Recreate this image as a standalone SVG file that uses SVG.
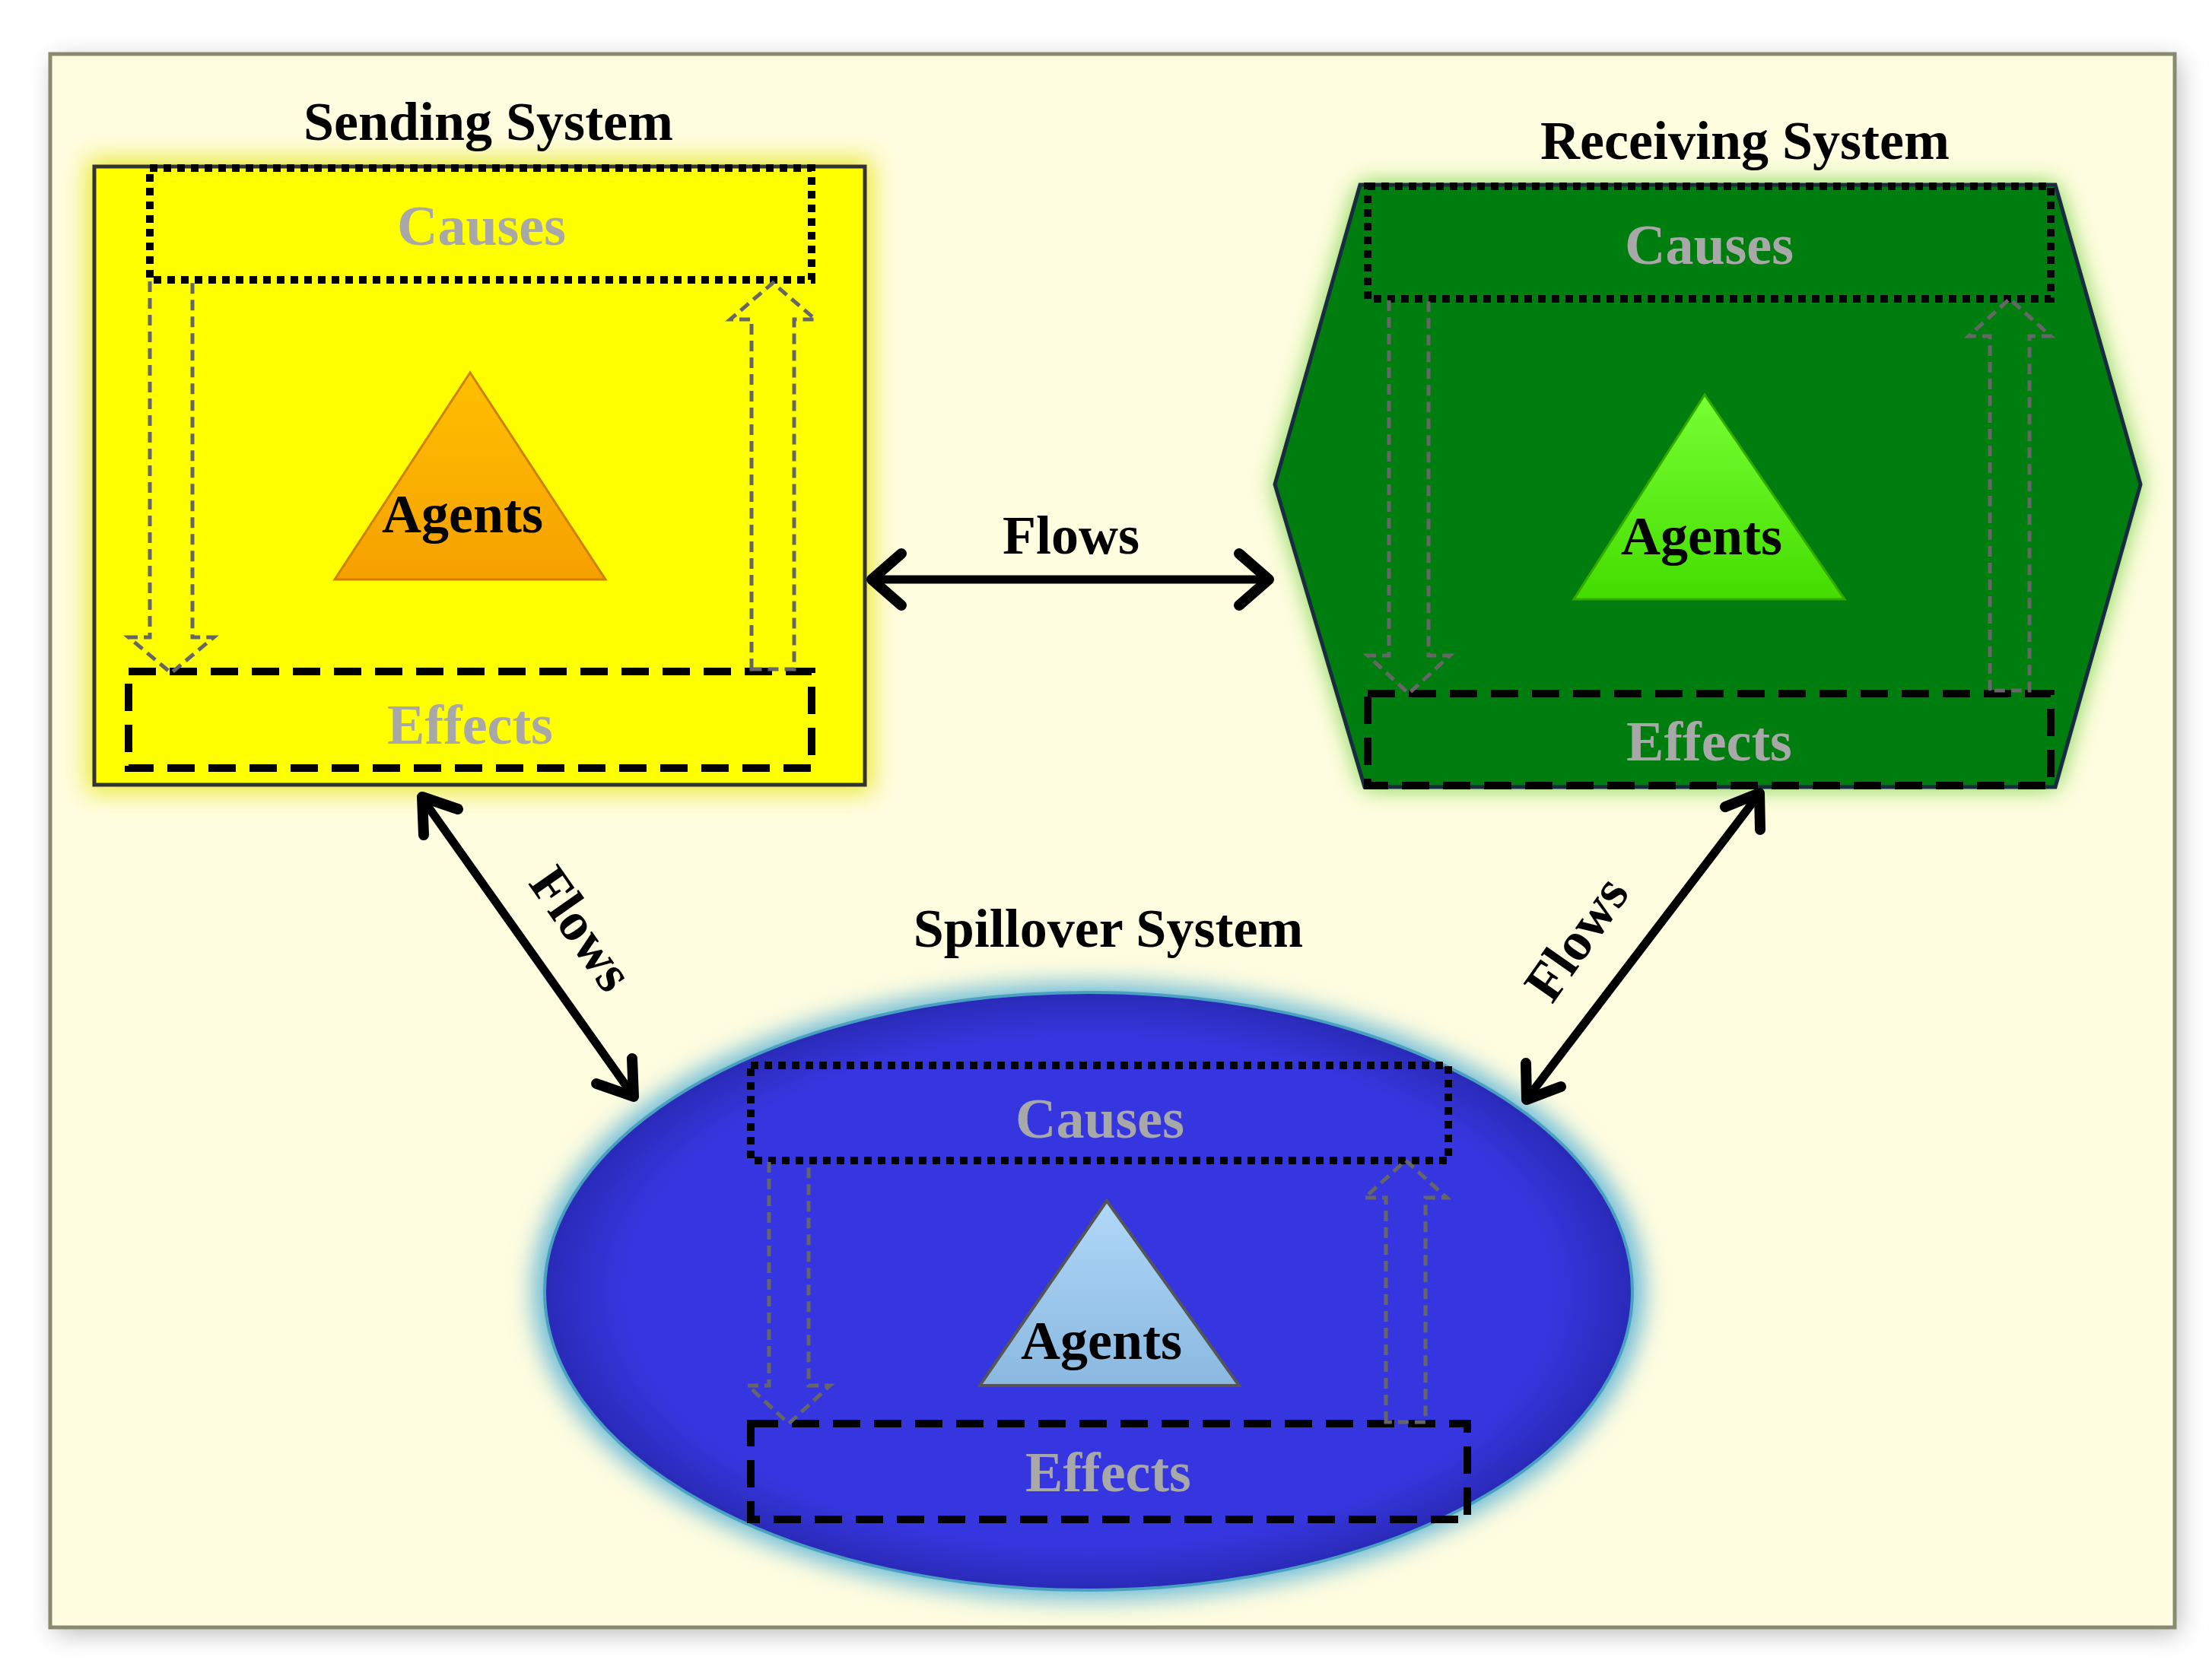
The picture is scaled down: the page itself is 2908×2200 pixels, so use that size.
<svg xmlns="http://www.w3.org/2000/svg" width="2908" height="2200" viewBox="0 0 2908 2200">
<defs>
<style>
.title{font-family:"Liberation Serif",serif;font-weight:bold;font-size:72px;fill:#000;text-anchor:middle}
.ce{font-family:"Liberation Serif",serif;font-weight:bold;font-size:74px;fill:#a8a8a8;text-anchor:middle}
.ag{font-family:"Liberation Serif",serif;font-weight:bold;font-size:72px;fill:#000;text-anchor:middle}
.dot{fill:none;stroke:#000;stroke-width:10;stroke-dasharray:10 8}
.dash{fill:none;stroke:#000;stroke-width:10;stroke-dasharray:36 18}
.hol{fill:none;stroke:#666;stroke-width:5;stroke-dasharray:14 8}
.flow{stroke:#000;stroke-width:11;fill:none}
.head{stroke:#000;stroke-width:14;fill:none;stroke-linecap:round;stroke-linejoin:round}
</style>
<linearGradient id="gy" x1="0" y1="0" x2="0" y2="1"><stop offset="0" stop-color="#ffc000"/><stop offset="1" stop-color="#f5a000"/></linearGradient>
<linearGradient id="gg" x1="0" y1="0" x2="0" y2="1"><stop offset="0" stop-color="#77ff33"/><stop offset="1" stop-color="#44dd00"/></linearGradient>
<linearGradient id="gb" x1="0" y1="0" x2="0" y2="1"><stop offset="0" stop-color="#b0d8f8"/><stop offset="1" stop-color="#8ab8e0"/></linearGradient>
<radialGradient id="ge" cx="0.5" cy="0.5" r="0.5"><stop offset="0.85" stop-color="#3636e0"/><stop offset="1" stop-color="#2a2ab8"/></radialGradient>
<filter id="glow" x="-10%" y="-10%" width="120%" height="120%"><feGaussianBlur stdDeviation="16"/></filter>
</defs>
<rect x="0" y="0" width="2908" height="2200" fill="#fff"/>
<rect x="72" y="79" width="2793" height="2069" fill="#bbb" filter="url(#glow)"/>
<rect x="66" y="71" width="2793" height="2069" fill="#fffde0" stroke="#8a8a70" stroke-width="5"/>

<g id="sending">
<rect x="114" y="209" width="1033" height="833" fill="#e8e830" filter="url(#glow)"/>
<rect x="124" y="219" width="1013" height="813" fill="#ffff00" stroke="#333" stroke-width="5"/>
<text class="title" x="642" y="184">Sending System</text>
<rect class="dot" x="197" y="221" width="870" height="147"/>
<text class="ce" x="633" y="322">Causes</text>
<rect class="dash" x="169" y="883" width="898" height="127"/>
<text class="ce" x="618" y="978">Effects</text>
<path class="hol" d="M197 370 V838 H169 L225 885 L281 838 H253 V370"/>
<path class="hol" d="M988 880 V420 H960 L1016 372 L1072 420 H1044 V880 Z"/>
<polygon points="618,490 440,762 796,762" fill="url(#gy)" stroke="#d08000" stroke-width="3"/>
<text class="ag" x="608" y="700">Agents</text>
</g>

<g id="receiving">
<polygon points="1788,243 2702,243 2814,637 2702,1035 1794,1035 1676,637" fill="#66cc33" filter="url(#glow)"/>
<polygon points="1788,243 2702,243 2814,637 2702,1035 1794,1035 1676,637" fill="#007d0f" stroke="#1a2a40" stroke-width="5"/>
<text class="title" x="2294" y="209">Receiving System</text>
<rect class="dot" x="1798" y="245" width="898" height="148"/>
<text class="ce" x="2247" y="347">Causes</text>
<rect class="dash" x="1798" y="912" width="898" height="121"/>
<text class="ce" x="2247" y="1000">Effects</text>
<path class="hol" d="M1826 395 V862 H1798 L1852 912 L1906 862 H1878 V395"/>
<path class="hol" d="M2616 908 V442 H2588 L2642 393 L2696 442 H2668 V908 Z"/>
<polygon points="2241,519 2069,788 2425,788" fill="url(#gg)" stroke="#33aa00" stroke-width="3"/>
<text class="ag" x="2237" y="729">Agents</text>
</g>

<g id="spillover">
<ellipse cx="1431" cy="1698" rx="730" ry="405" fill="#66b8d8" filter="url(#glow)"/>
<ellipse cx="1431" cy="1698" rx="715" ry="393" fill="url(#ge)" stroke="#4aa0c0" stroke-width="4"/>
<text class="title" x="1457" y="1245">Spillover System</text>
<rect class="dot" x="987" y="1401" width="917" height="125"/>
<text class="ce" x="1446" y="1496">Causes</text>
<rect class="dash" x="987" y="1872" width="942" height="126"/>
<text class="ce" x="1457" y="1961">Effects</text>
<path class="hol" d="M1011 1528 V1822 H983 L1037 1872 L1091 1822 H1063 V1528"/>
<path class="hol" d="M1822 1870 V1575 H1794 L1848 1526 L1902 1575 H1874 V1870 Z"/>
<polygon points="1455,1579 1288,1822 1629,1822" fill="url(#gb)" stroke="#555" stroke-width="4"/>
<text class="ag" x="1448" y="1787">Agents</text>
</g>

<g id="connectors">
<line class="flow" x1="1150" y1="762" x2="1664" y2="762"/>
<path class="head" d="M1185 728 L1146 762 L1185 796"/>
<path class="head" d="M1629 728 L1668 762 L1629 796"/>
<text class="title" x="1408" y="728">Flows</text>
<line class="flow" x1="558" y1="1054" x2="829" y2="1436"/>
<path class="head" d="M557 1098 L555 1048 L602 1064"/>
<path class="head" d="M784 1425 L833 1442 L831 1392"/>
<text class="title" transform="translate(745,1235) rotate(55)">Flows</text>
<line class="flow" x1="2309" y1="1049" x2="2011" y2="1440"/>
<path class="head" d="M2268 1061 L2313 1043 L2314 1091"/>
<path class="head" d="M2006 1398 L2007 1446 L2052 1429"/>
<text class="title" transform="translate(2092,1248) rotate(-55)">Flows</text>
</g>
</svg>
